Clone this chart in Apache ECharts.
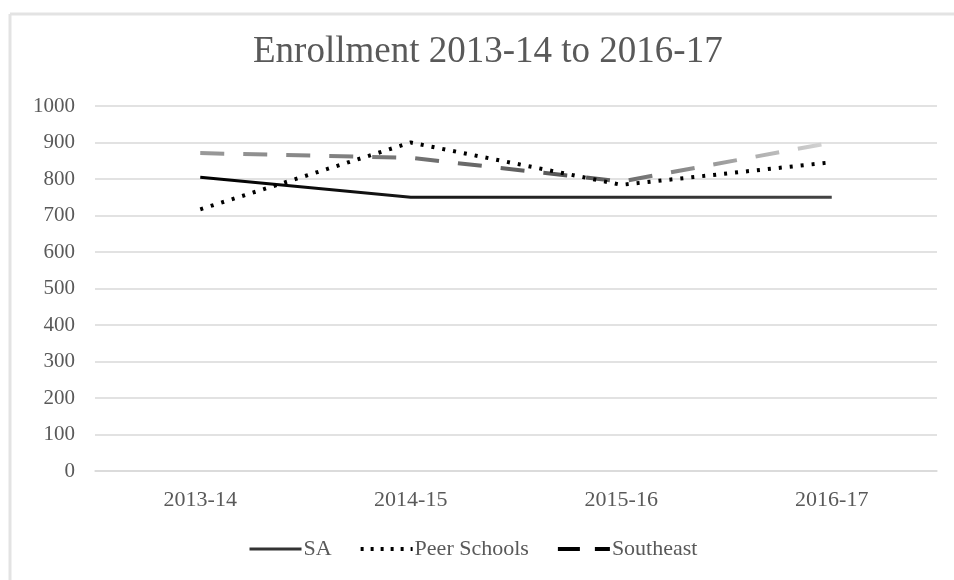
<!DOCTYPE html>
<html>
<head>
<meta charset="utf-8">
<script src="https://cdn.jsdelivr.net/npm/echarts@6/dist/echarts.min.js"></script>
<style>
  html, body { margin: 0; padding: 0; background: #fff; }
  #chart { width: 954px; height: 580px; }
</style>
</head>
<body>
<div id="chart"></div>
<script>
  var years = ['2013-14', '2014-15', '2015-16', '2016-17']
  var saValues = [805, 750, 750, 750]
  var peerValues = [717, 900, 784, 846]
  var southeastValues = [871, 858, 793, 900]
  var yTicks = { min: 0, max: 1000, interval: 100 }

  var serif = '"Liberation Serif", "DejaVu Serif", serif'
  var textColor = '#595959'

  var chart = echarts.init(document.getElementById('chart'))
  var option = {
    backgroundColor: '#fff',
    animation: false,
    title: {
      text: 'Enrollment 2013-14 to 2016-17',
      left: 248,
      top: 29,
      textStyle: { fontFamily: serif, fontSize: 37, fontWeight: 'normal', color: textColor }
    },
    graphic: [
      { type: 'line', shape: { x1: 10, y1: 14, x2: 954, y2: 14 }, style: { stroke: '#e3e3e3', lineWidth: 3 } },
      { type: 'line', shape: { x1: 10, y1: 14, x2: 10, y2: 580 }, style: { stroke: '#e3e3e3', lineWidth: 3 } }
    ],
    grid: { left: 95, right: 17, top: 106, bottom: 109 },
    legend: {
      bottom: 15,
      left: 243,
      itemWidth: 52,
      itemHeight: 10,
      itemGap: 27,
      itemStyle: { opacity: 0 },
      textStyle: { fontFamily: serif, fontSize: 22, color: textColor, padding: [0, 0, 0, -3] },
      data: [
        { name: 'SA', lineStyle: { color: '#333', width: 3 } },
        { name: 'Peer Schools', lineStyle: { color: '#000', width: 4, type: [3, 7] } },
        { name: 'Southeast', lineStyle: { color: '#000', width: 4, type: [22, 15] } }
      ]
    },
    xAxis: {
      type: 'category',
      data: years,
      axisLine: { lineStyle: { color: '#d9d9d9', width: 1.5 } },
      axisTick: { show: false },
      axisLabel: { fontFamily: serif, fontSize: 22, color: textColor, margin: 18 }
    },
    yAxis: {
      type: 'value',
      min: yTicks.min,
      max: yTicks.max,
      interval: yTicks.interval,
      axisLine: { show: false },
      axisTick: { show: false },
      splitLine: { lineStyle: { color: '#d9d9d9', width: 1.5 } },
      axisLabel: {
        fontFamily: serif, fontSize: 21, color: textColor, margin: 20,
        formatter: function (v) { return String(v) }
      }
    },
    series: [
      {
        name: 'SA',
        type: 'line',
        data: saValues,
        symbol: 'none',
        itemStyle: { color: '#222' },
        lineStyle: {
          width: 3,
          color: new echarts.graphic.LinearGradient(0, 0, 1, 0, [
            { offset: 0, color: '#000' },
            { offset: 1, color: '#444' }
          ])
        }
      },
      {
        name: 'Peer Schools',
        type: 'line',
        data: peerValues,
        symbol: 'none',
        itemStyle: { color: '#000' },
        lineStyle: { width: 4, color: '#000', type: [3, 8] }
      },
      {
        name: 'Southeast',
        type: 'line',
        data: southeastValues,
        symbol: 'none',
        z: 1,
        itemStyle: { color: '#000' },
        lineStyle: {
          width: 4,
          type: [24, 19],
          color: new echarts.graphic.LinearGradient(0, 0, 1, 0, [
            { offset: 0, color: '#9a9a9a' },
            { offset: 0.6, color: '#555' },
            { offset: 1, color: '#d8d8d8' }
          ])
        }
      }
    ]
  }
  chart.setOption(option)
</script>
</body>
</html>
